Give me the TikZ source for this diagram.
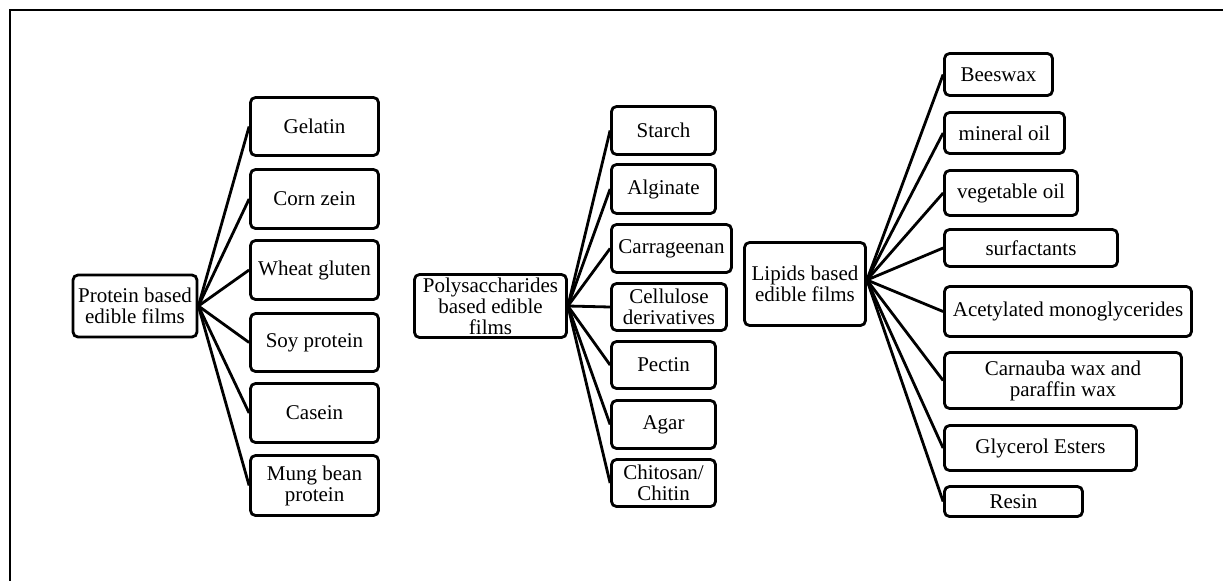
\documentclass[tikz,border=0pt]{standalone}
\usepackage{fontspec}
\setmainfont{Liberation Serif}
\usetikzlibrary{positioning}
\usetikzlibrary{calc}

\tikzset{
    box/.style={draw, line width=2.8pt, rounded corners=5pt, align=center, inner sep=0pt, font=\fontsize{21}{21}\selectfont},
    link/.style={line width=2.8pt}
}

\begin{document}
\begin{tikzpicture}[x=1pt,y=-1pt]

\useasboundingbox (0,0) rectangle (1223,581);
\draw[line width=2.8pt] (1223,10) -- (10,10) -- (10,581);

% protein group
\node[box, minimum width=124pt, minimum height=62pt] (protein) at (135,306) {Protein based\\edible films};
\node[box, minimum width=128pt, minimum height=58pt] (gelatin) at (314.5,126.5) {Gelatin};
\node[box, minimum width=128pt, minimum height=59pt] (corn) at (314.5,199) {Corn zein};
\node[box, minimum width=128pt, minimum height=59pt] (wheat) at (314.5,270) {Wheat gluten};
\node[box, minimum width=128pt, minimum height=58pt] (soy) at (314.5,342.5) {Soy protein};
\node[box, minimum width=128pt, minimum height=59pt] (casein) at (314.5,413) {Casein};
\node[box, minimum width=128pt, minimum height=60pt] (mung) at (314.5,485.5) {Mung bean\\protein};

% polysaccharide group
\node[box, minimum width=152pt, minimum height=63pt] (poly) at (490.5,306) {Polysaccharides\\based edible\\films};
\node[box, minimum width=104pt, minimum height=48pt] (starch) at (663.5,130.5) {Starch};
\node[box, minimum width=104pt, minimum height=49pt] (alginate) at (663.5,189) {Alginate};
\node[box, minimum width=120pt, minimum height=48pt] (carra) at (671.5,248.5) {Carrageenan};
\node[box, minimum width=115pt, minimum height=47pt] (cellu) at (669,307) {Cellulose\\derivatives};
\node[box, minimum width=104pt, minimum height=47pt] (pectin) at (663.5,365) {Pectin};
\node[box, minimum width=104pt, minimum height=48pt] (agar) at (663.5,424.5) {Agar};
\node[box, minimum width=104pt, minimum height=47pt] (chito) at (663.5,483) {Chitosan/\\Chitin};

% lipid group
\node[box, minimum width=121pt, minimum height=83pt] (lipid) at (805,284) {Lipids based\\edible films};
\node[box, minimum width=108pt, minimum height=42pt] (beeswax) at (998.5,74.5) {Beeswax};
\node[box, minimum width=120pt, minimum height=41pt] (mineral) at (1004.5,133) {mineral oil};
\node[box, minimum width=133pt, minimum height=45pt] (veg) at (1011,193) {vegetable oil};
\node[box, minimum width=173pt, minimum height=37pt] (surf) at (1031,248) {surfactants};
\node[box, minimum width=247pt, minimum height=50pt] (acet) at (1068,311.5) {Acetylated monoglycerides};
\node[box, minimum width=237pt, minimum height=56pt] (carna) at (1063,380.5) {Carnauba wax and\\paraffin wax};
\node[box, minimum width=192pt, minimum height=45pt] (glyc) at (1040.5,448) {Glycerol Esters};
\node[box, minimum width=138pt, minimum height=30pt] (resin) at (1013.5,501.5) {Resin};

\foreach \c in {gelatin,corn,wheat,soy,casein,mung}
    \draw[link] (protein.east) -- (\c.west);
\foreach \c in {starch,alginate,carra,cellu,pectin,agar,chito}
    \draw[link] (poly.east) -- (\c.west);
\foreach \c in {beeswax,mineral,veg,surf,acet,carna,glyc,resin}
    \draw[link] ($(lipid.east)+(0,-4)$) -- (\c.west);

\end{tikzpicture}
\end{document}
